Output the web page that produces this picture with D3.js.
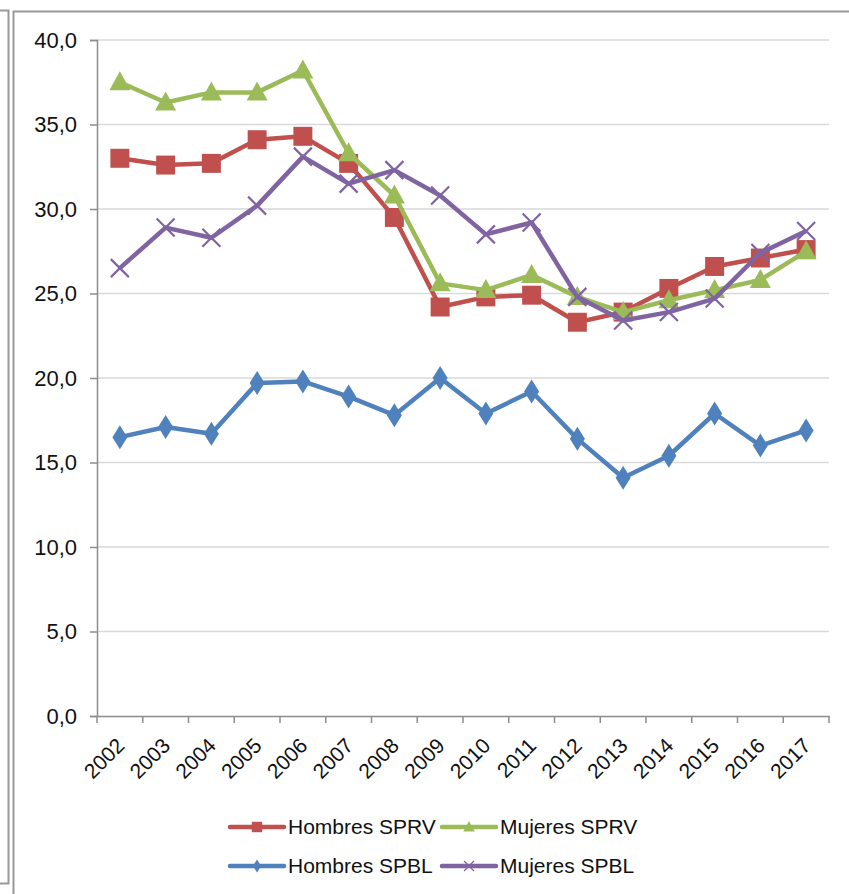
<!DOCTYPE html>
<html lang="es">
<head>
<meta charset="UTF-8">
<title>SPRV / SPBL</title>
<script src="https://d3js.org/d3.v7.min.js"></script>
<style>
  body { margin: 0; background: #fff; }
  svg text { font-family: "Liberation Sans", Arial, sans-serif; fill: #111; }
</style>
</head>
<body>
<div id="chart"></div>
<script>
  const years = ["2002","2003","2004","2005","2006","2007","2008","2009","2010","2011","2012","2013","2014","2015","2016","2017"];
  const hombresSPRV = [33.0, 32.6, 32.7, 34.1, 34.3, 32.7, 29.5, 24.2, 24.8, 24.9, 23.3, 23.9, 25.3, 26.6, 27.1, 27.6];
  const mujeresSPRV = [37.5, 36.3, 36.9, 36.9, 38.2, 33.3, 30.8, 25.6, 25.2, 26.1, 24.8, 23.9, 24.6, 25.2, 25.8, 27.5];
  const hombresSPBL = [16.5, 17.1, 16.7, 19.7, 19.8, 18.9, 17.8, 20.0, 17.9, 19.2, 16.4, 14.1, 15.4, 17.9, 16.0, 16.9];
  const mujeresSPBL = [26.5, 28.9, 28.3, 30.2, 33.1, 31.5, 32.3, 30.8, 28.5, 29.2, 24.8, 23.4, 23.9, 24.7, 27.4, 28.7];
  const yTicks = [0, 5, 10, 15, 20, 25, 30, 35, 40];

  const series = [
    {name: "Hombres SPRV", values: hombresSPRV, color: "#C0504D", marker: "square"},
    {name: "Mujeres SPRV", values: mujeresSPRV, color: "#9BBB59", marker: "triangle"},
    {name: "Hombres SPBL", values: hombresSPBL, color: "#4F81BD", marker: "diamond"},
    {name: "Mujeres SPBL", values: mujeresSPBL, color: "#8064A2", marker: "x"}
  ];

  const W = 849, H = 894;
  const margin = {top: 40, right: 20, bottom: 178, left: 97};
  const width = 829 - margin.left, height = 716 - margin.top;

  const svg = d3.select("#chart").append("svg")
    .attr("width", W).attr("height", H);

  // frames
  svg.append("path").attr("d", "M0,10.5H8.5V883.5H0")
    .attr("fill", "none").attr("stroke", "#999").attr("stroke-width", 2);
  svg.append("path").attr("d", "M13.5,894V11.5H849")
    .attr("fill", "none").attr("stroke", "#999").attr("stroke-width", 2);

  const g = svg.append("g").attr("transform", `translate(${margin.left},${margin.top})`);

  const x = d3.scaleBand().domain(years).range([0, width]);
  const y = d3.scaleLinear().domain([0, 40]).range([height, 0]);
  const fmt = d => d3.format(".1f")(d).replace(".", ",");

  // gridlines
  g.append("g").selectAll("line").data(yTicks.filter(d => d > 0)).join("line")
    .attr("x1", 0).attr("x2", width)
    .attr("y1", d => y(d)).attr("y2", d => y(d))
    .attr("stroke", "#d9d9d9").attr("stroke-width", 1.5);

  // Y axis
  const yAxis = g.append("g")
    .call(d3.axisLeft(y).tickValues(yTicks).tickFormat(fmt).tickSize(7).tickPadding(13));
  yAxis.select(".domain").attr("stroke", "#8c8c8c").attr("stroke-width", 1.5);
  yAxis.selectAll(".tick line").attr("stroke", "#8c8c8c").attr("stroke-width", 1.5);
  yAxis.selectAll("text").style("font-size", "22px").attr("fill", "#111");

  // X axis
  const xAxis = g.append("g").attr("transform", `translate(0,${height})`)
    .call(d3.axisBottom(x).tickSize(0));
  xAxis.select(".domain").attr("stroke", "#8c8c8c").attr("stroke-width", 1.5);
  xAxis.selectAll(".tick line").remove();
  xAxis.selectAll(".tick text")
    .style("font-size", "21px").attr("fill", "#111")
    .attr("text-anchor", "end")
    .attr("x", 0).attr("y", 0).attr("dy", 0)
    .attr("transform", `translate(6,31) rotate(-45)`);
  // tick marks at band edges
  xAxis.append("g").selectAll("line")
    .data(years.map(d => x(d)).concat([width])).join("line")
    .attr("x1", d => d).attr("x2", d => d).attr("y1", 0).attr("y2", 7)
    .attr("stroke", "#8c8c8c").attr("stroke-width", 1.5);

  const cx = (d, i) => x(years[i]) + x.bandwidth() / 2;

  const markerPath = {
    square: d3.symbol().type(d3.symbolSquare).size(360)(),
    triangle: "M0,-11L10.5,8L-10.5,8Z",
    diamond: "M0,-12L7.5,0L0,12L-7.5,0Z",
    x: "M-9,-9L9,9M-9,9L9,-9"
  };

  function drawMarker(sel, s) {
    if (s.marker === "x") {
      sel.append("path").attr("d", markerPath.x)
        .attr("fill", "none").attr("stroke", s.color).attr("stroke-width", 2.2);
    } else {
      sel.append("path").attr("d", markerPath[s.marker]).attr("fill", s.color);
    }
  }

  const line = d3.line().x(cx).y(d => y(d));

  series.forEach(s => {
    const sg = g.append("g");
    sg.append("path").datum(s.values)
      .attr("d", line)
      .attr("fill", "none").attr("stroke", s.color)
      .attr("stroke-width", 4.5).attr("stroke-linejoin", "round");
    sg.selectAll("g.pt").data(s.values).join("g").attr("class", "pt")
      .attr("transform", (d, i) => `translate(${cx(d, i)},${y(d)})`)
      .each(function() { drawMarker(d3.select(this), s); });
  });

  // legend
  const legendPos = [[230, 827], [442, 827], [230, 866], [442, 866]];
  series.forEach((s, i) => {
    const [lx, ly] = legendPos[i];
    const lg = svg.append("g").attr("transform", `translate(${lx},${ly})`);
    lg.append("line").attr("x1", 0).attr("x2", 54).attr("y1", 0).attr("y2", 0)
      .attr("stroke", s.color).attr("stroke-width", 4.5).attr("stroke-linecap", "round");
    const m = lg.append("g").attr("transform", "translate(27,0) scale(0.55)");
    drawMarker(m, s);
    lg.append("text").attr("x", 58).attr("y", 0).attr("dy", "0.35em")
      .style("font-size", "21px").text(s.name);
  });
</script>
</body>
</html>
